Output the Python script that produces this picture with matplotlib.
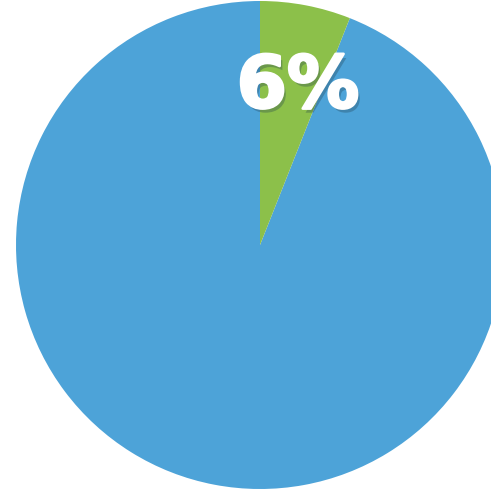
import matplotlib
matplotlib.use("Agg")
import matplotlib.pyplot as plt
import matplotlib.patheffects as pe

labels = ["Other", "Highlighted"]
values = [94, 6]
colors = ["#4DA3D8", "#8CC04A"]
label_text = "6%"

W, H = 491, 494
fig = plt.figure(figsize=(W / 100, H / 100), dpi=100)
cx, cy, r = 260, 245, 244
ax = fig.add_axes([(cx - r) / W, (H - cy - r) / H, 2 * r / W, 2 * r / H])
ax.pie(values, colors=colors, startangle=90, counterclock=True,
       wedgeprops=dict(linewidth=0), radius=1)
ax.set_xlim(-1, 1)
ax.set_ylim(-1, 1)
ax.set_aspect("auto")
ax.axis("off")

t = fig.text(298 / W, 1 - 88 / H, label_text, color="white", fontsize=52,
             fontweight="bold", fontstyle="normal", family=["DejaVu Sans"],
             ha="center", va="center")
t.set_path_effects([pe.SimplePatchShadow(offset=(2, -3), alpha=0.3, shadow_rgbFace="#1e3a4a"),
                    pe.Stroke(linewidth=2, foreground="white"),
                    pe.Normal()])

fig.savefig("out.png", dpi=100)
